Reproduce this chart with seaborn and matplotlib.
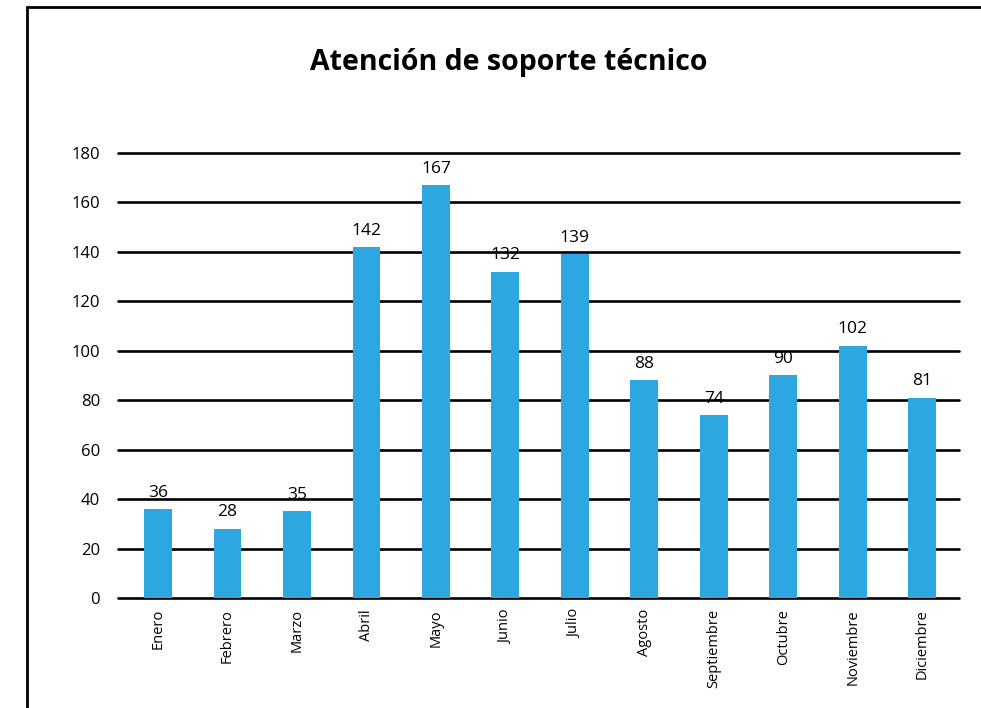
import pandas as pd
import matplotlib
matplotlib.use('Agg')
import matplotlib.pyplot as plt
import seaborn as sns
from matplotlib.lines import Line2D

meses = ['Enero', 'Febrero', 'Marzo', 'Abril', 'Mayo', 'Junio', 'Julio',
         'Agosto', 'Septiembre', 'Octubre', 'Noviembre', 'Diciembre']
atenciones = [36, 28, 35, 142, 167, 132, 139, 88, 74, 90, 102, 81]
yticks = [0, 20, 40, 60, 80, 100, 120, 140, 160, 180]

df = pd.DataFrame({'mes': meses, 'atenciones': atenciones})

sns.set_style('white')
plt.rcParams['font.family'] = ['Open Sans', 'DejaVu Sans']
plt.rcParams['text.color'] = 'black'
plt.rcParams['xtick.color'] = 'black'
plt.rcParams['ytick.color'] = 'black'

fig = plt.figure(figsize=(9.81, 7.08), dpi=100)
ax = fig.add_axes([0.1203, 0.1554, 0.8573, 0.6285])

# gridlines first so bars sit on top
for y in yticks:
    ax.axhline(y, color='black', lw=1.9, zorder=0, clip_on=False)

sns.barplot(data=df, x='mes', y='atenciones', color='#2CA7E0', saturation=1,
            width=0.4, linewidth=0, ax=ax, zorder=2)
ax.bar_label(ax.containers[0], fontsize=12.5, padding=6, color='black')

ax.set_xlim(-0.576, 11.53)
ax.set_ylim(0, 180)
ax.set_yticks(yticks)
ax.tick_params(axis='y', length=0, pad=13, labelsize=12)
ax.tick_params(axis='x', length=0, pad=8, labelsize=10.5, rotation=90)
ax.set_xlabel('')
ax.set_ylabel('')
for s in ax.spines.values():
    s.set_visible(False)

fig.text(0.519, 0.912, 'Atención de soporte técnico', ha='center', va='center',
         fontsize=20.5, fontweight='bold', color='black')

# outer frame (top and left edges visible)
fig.add_artist(Line2D([27/981, 27/981], [0, 1 - 7/708], color='black', lw=2,
                      transform=fig.transFigure))
fig.add_artist(Line2D([27/981, 1], [1 - 7/708, 1 - 7/708], color='black', lw=2,
                      transform=fig.transFigure))

fig.savefig('out.png', dpi=100)
